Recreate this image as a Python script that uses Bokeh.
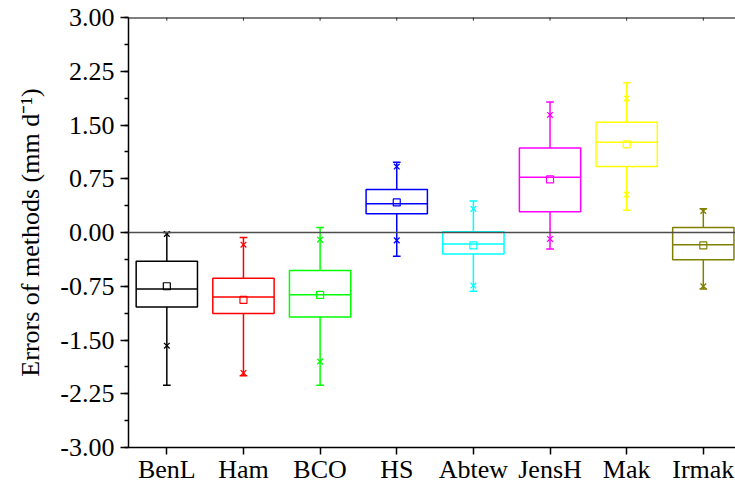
from bokeh.plotting import figure
from bokeh.models import (Range1d, FixedTicker, PrintfTickFormatter, Span, ColumnDataSource)
from bokeh.embed import file_html
from bokeh.resources import INLINE

methods = ["BenL", "Ham", "BCO", "HS", "Abtew", "JensH", "Mak", "Irmak"]
colors = ["#000000", "#FF0000", "#00FF00", "#0000FF", "#00FFFF", "#FF00FF", "#FFFF00", "#808000"]
whisker_low = [-2.13, -2.00, -2.13, -0.33, -0.82, -0.23, 0.31, -0.79]
q1 = [-1.04, -1.13, -1.18, 0.26, -0.30, 0.29, 0.92, -0.38]
median = [-0.79, -0.90, -0.87, 0.40, -0.16, 0.77, 1.26, -0.17]
mean = [-0.75, -0.94, -0.87, 0.42, -0.18, 0.74, 1.23, -0.18]
q3 = [-0.40, -0.64, -0.53, 0.60, 0.01, 1.18, 1.54, 0.07]
whisker_high = [0.00, -0.07, 0.07, 0.98, 0.44, 1.82, 2.09, 0.33]
p_low = [-1.58, -1.96, -1.80, -0.11, -0.74, -0.09, 0.53, -0.75]
p_high = [-0.02, -0.17, -0.10, 0.92, 0.33, 1.64, 1.87, 0.30]
y_ticks = [-3.0, -2.25, -1.5, -0.75, 0.0, 0.75, 1.5, 2.25, 3.0]

x = list(range(1, len(methods) + 1))
box_w = 0.8
cap_w = 0.1
y_top = y_ticks[-1]

src = ColumnDataSource(dict(
    x=x, left=[v - box_w / 2 for v in x], right=[v + box_w / 2 for v in x],
    cl=[v - cap_w / 2 for v in x], cr=[v + cap_w / 2 for v in x],
    wl=whisker_low, q1=q1, med=median, mean=mean, q3=q3, wh=whisker_high,
    pl=p_low, ph=p_high, color=colors,
    ttop=[y_top] * len(x), tbot=[y_top - 0.045] * len(x),
))

FONT = "Liberation Serif"

p = figure(width=735, height=486, output_backend="svg", toolbar_location=None,
           x_range=Range1d(0.5, 8.42), y_range=Range1d(-3.0, 3.0),
           min_border_left=128, min_border_right=0, min_border_top=17,
           min_border_bottom=39)
p.outline_line_color = None
p.grid.visible = False
p.background_fill_color = "white"
p.border_fill_color = "white"

# zero line
p.add_layout(Span(location=0, dimension="width", line_color="#4d4d4d", line_width=1.5))
# top frame line with small inner ticks
p.add_layout(Span(location=y_top, dimension="width", line_color="black", line_width=1.8))
p.segment(x0="x", y0="ttop", x1="x", y1="tbot", source=src, line_color="#333333", line_width=1)

# whiskers
p.segment(x0="x", y0="q3", x1="x", y1="wh", source=src, line_color="color", line_width=1.5)
p.segment(x0="x", y0="q1", x1="x", y1="wl", source=src, line_color="color", line_width=1.5)
p.segment(x0="cl", y0="wh", x1="cr", y1="wh", source=src, line_color="color", line_width=1.5)
p.segment(x0="cl", y0="wl", x1="cr", y1="wl", source=src, line_color="color", line_width=1.5)
# boxes
p.quad(left="left", right="right", bottom="q1", top="q3", source=src,
       fill_color=None, line_color="color", line_width=1.5)
# medians
p.segment(x0="left", y0="med", x1="right", y1="med", source=src, line_color="color", line_width=1.5)
# mean
p.scatter(x="x", y="mean", source=src, marker="square", size=7, fill_color=None,
          line_color="color", line_width=1.2)
# 1%/99% markers
p.scatter(x="x", y="pl", source=src, marker="x", size=8, line_color="color", line_width=1.3)
p.scatter(x="x", y="ph", source=src, marker="x", size=8, line_color="color", line_width=1.3)

# y axis
ya = p.yaxis[0]
ya.ticker = FixedTicker(ticks=y_ticks, minor_ticks=[-3 + 0.375 * i for i in range(17)])
ya.formatter = PrintfTickFormatter(format="%.2f")
ya.axis_label = "Errors of methods (mm d\u207b\u00b9)"
ya.axis_label_text_font = FONT
ya.axis_label_text_font_style = "normal"
ya.axis_label_text_font_size = "26px"
ya.axis_label_text_color = "black"
ya.axis_label_standoff = 12
ya.major_label_text_font = FONT
ya.major_label_text_font_style = "normal"
ya.major_label_text_font_size = "26px"
ya.major_label_text_color = "black"
ya.major_label_standoff = 6
ya.major_tick_out = 8
ya.major_tick_in = 0
ya.minor_tick_out = 4
ya.minor_tick_in = 0
ya.axis_line_width = 1.5
ya.major_tick_line_width = 1.5
ya.minor_tick_line_width = 1.5

# x axis
xa = p.xaxis[0]
xa.ticker = FixedTicker(ticks=x, minor_ticks=[])
xa.major_label_overrides = {i: m for i, m in zip(x, methods)}
xa.major_label_text_font = FONT
xa.major_label_text_font_style = "normal"
xa.major_label_text_font_size = "26px"
xa.major_label_text_color = "black"
xa.major_label_standoff = 0
xa.major_tick_out = 7
xa.major_tick_in = 0
xa.axis_line_width = 1.5
xa.major_tick_line_width = 1.5

open("out.html", "w").write(file_html(p, INLINE))
